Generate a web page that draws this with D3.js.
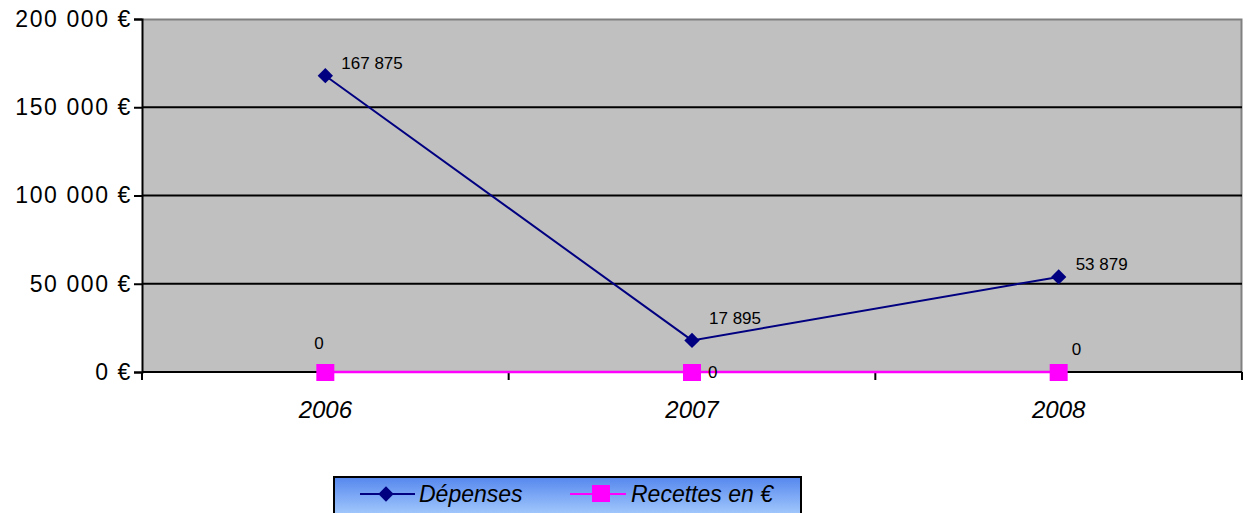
<!DOCTYPE html>
<html>
<head>
<meta charset="utf-8">
<script src="https://cdn.jsdelivr.net/npm/d3@7"></script>
<style>
  html, body { margin: 0; padding: 0; background: #fff; }
  svg { display: block; font-family: "Liberation Sans", Arial, sans-serif; }
</style>
</head>
<body>
<svg id="chart" width="1252" height="513"></svg>
<script>
// Years and series
const years = ["2006", "2007", "2008"];
const depenses = [167875, 17895, 53879];
const recettes = [0, 0, 0];
const yTicks = [0, 50000, 100000, 150000, 200000];
const seriesNames = ["Dépenses", "Recettes en €"];

const svg = d3.select("#chart");
const plot = { left: 142, right: 1242, top: 19, bottom: 372 };

const x = d3.scaleBand().domain(years).range([plot.left, plot.right]);
const y = d3.scaleLinear().domain([0, 200000]).range([plot.bottom, plot.top]);

const fmt = v => d3.format(",")(v).replace(/,/g, " ");

// Plot area background with grey frame at top and right
svg.append("rect")
  .attr("x", plot.left).attr("y", plot.top)
  .attr("width", plot.right - plot.left).attr("height", plot.bottom - plot.top)
  .attr("fill", "#c0c0c0");
svg.append("path")
  .attr("d", `M${plot.left},${plot.top + 0.5}H${plot.right - 0.5}V${plot.bottom}`)
  .attr("fill", "none").attr("stroke", "#808080").attr("stroke-width", 2);

// Horizontal gridlines
svg.append("g").selectAll("line")
  .data(yTicks.filter(t => t > 0 && t < 200000))
  .join("line")
  .attr("x1", plot.left).attr("x2", plot.right)
  .attr("y1", d => y(d)).attr("y2", d => y(d))
  .attr("stroke", "#000").attr("stroke-width", 2);

// Y axis
const yAxis = d3.axisLeft(y).tickValues(yTicks).tickSize(8).tickPadding(2)
  .tickFormat(d => fmt(d) + " €");
const gy = svg.append("g").attr("transform", `translate(${plot.left},0)`).call(yAxis);
gy.select(".domain").attr("stroke", "#000").attr("stroke-width", 2);
gy.selectAll(".tick line").attr("stroke", "#000").attr("stroke-width", 2);
gy.selectAll(".tick text").attr("font-size", 23).attr("fill", "#000")
  .attr("letter-spacing", 1.6)
  .attr("font-family", "Liberation Sans, Arial, sans-serif");

// X axis with ticks at band boundaries
const gx = svg.append("g").attr("transform", `translate(0,${plot.bottom})`);
gx.append("line").attr("x1", plot.left).attr("x2", plot.right)
  .attr("stroke", "#000").attr("stroke-width", 2);
const bounds = years.map(d => x(d)).concat([plot.right]);
gx.selectAll("line.tk").data(bounds).join("line").attr("class", "tk")
  .attr("x1", d => d).attr("x2", d => d).attr("y1", 0).attr("y2", 8)
  .attr("stroke", "#000").attr("stroke-width", 2);
gx.selectAll("text").data(years).join("text")
  .attr("x", d => x(d) + x.bandwidth() / 2).attr("y", 46)
  .attr("text-anchor", "middle").attr("font-size", 24).attr("font-style", "italic")
  .text(d => d);

const cx = d => x(d) + x.bandwidth() / 2;

// Recettes series (magenta, squares)
const lineR = d3.line().x((d, i) => cx(years[i])).y(d => y(d));
svg.append("path").datum(recettes).attr("d", lineR)
  .attr("fill", "none").attr("stroke", "#ff00ff").attr("stroke-width", 2.5);
svg.append("g").selectAll("rect").data(recettes).join("rect")
  .attr("x", (d, i) => cx(years[i]) - 9).attr("y", d => y(d) - 8)
  .attr("width", 18).attr("height", 17).attr("fill", "#ff00ff");

// Dépenses series (navy, diamonds)
const lineD = d3.line().x((d, i) => cx(years[i])).y(d => y(d));
svg.append("path").datum(depenses).attr("d", lineD)
  .attr("fill", "none").attr("stroke", "#000080").attr("stroke-width", 2);
const diamond = d3.symbol().type(d3.symbolDiamond2).size(150);
svg.append("g").selectAll("path").data(depenses).join("path")
  .attr("d", diamond)
  .attr("transform", (d, i) => `translate(${cx(years[i])},${y(d)})`)
  .attr("fill", "#000080");

// Data labels
const labOffD = [[16, -13], [17, -22], [17, -13]];
svg.append("g").selectAll("text").data(depenses).join("text")
  .attr("x", (d, i) => cx(years[i]) + labOffD[i][0])
  .attr("y", (d, i) => y(d) + labOffD[i][1] + 6)
  .attr("font-size", 17).attr("fill", "#000")
  .text(d => fmt(d));
const labOffR = [[-11, -29], [16, 0], [13, -23]];
svg.append("g").selectAll("text").data(recettes).join("text")
  .attr("x", (d, i) => cx(years[i]) + labOffR[i][0])
  .attr("y", (d, i) => y(d) + labOffR[i][1] + 6)
  .attr("font-size", 17).attr("fill", "#000")
  .text(d => fmt(d));

// Legend
const defs = svg.append("defs");
const grad = defs.append("linearGradient").attr("id", "legGrad")
  .attr("x1", 0).attr("y1", 0).attr("x2", 0).attr("y2", 1);
grad.append("stop").attr("offset", "0%").attr("stop-color", "#5587ee");
grad.append("stop").attr("offset", "100%").attr("stop-color", "#a8cdfd");
const leg = svg.append("g").attr("transform", "translate(334,477)");
leg.append("rect").attr("width", 467).attr("height", 40)
  .attr("fill", "url(#legGrad)").attr("stroke", "#000").attr("stroke-width", 2);
// Dépenses entry
leg.append("line").attr("x1", 26).attr("x2", 81).attr("y1", 17).attr("y2", 17)
  .attr("stroke", "#000080").attr("stroke-width", 2);
leg.append("path").attr("d", diamond).attr("transform", "translate(52,17)")
  .attr("fill", "#000080");
leg.append("text").attr("x", 85).attr("y", 25).attr("font-size", 23)
  .attr("font-style", "italic").text(seriesNames[0]);
// Recettes entry
leg.append("line").attr("x1", 236).attr("x2", 292).attr("y1", 17).attr("y2", 17)
  .attr("stroke", "#ff00ff").attr("stroke-width", 2);
leg.append("rect").attr("x", 258).attr("y", 8).attr("width", 18).attr("height", 17)
  .attr("fill", "#ff00ff");
leg.append("text").attr("x", 297).attr("y", 25).attr("font-size", 23)
  .attr("font-style", "italic").text(seriesNames[1]);
</script>
</body>
</html>
